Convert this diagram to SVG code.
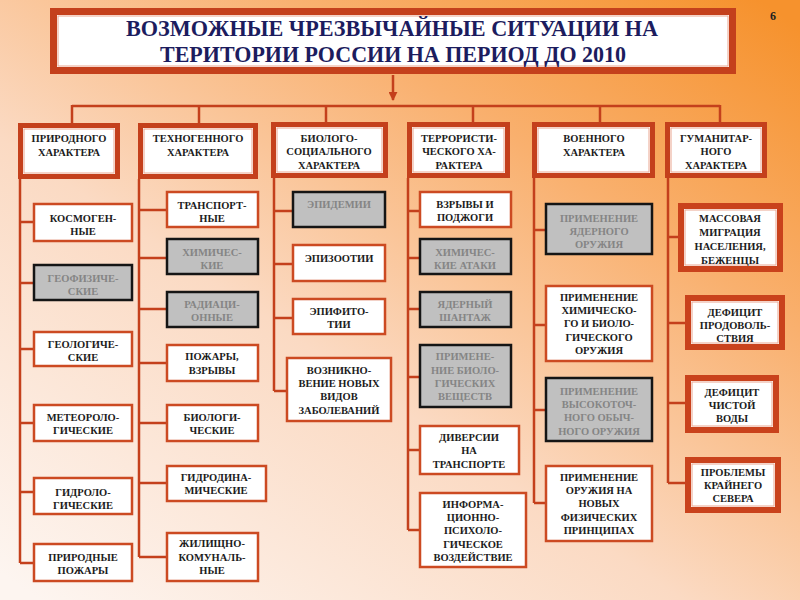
<svg xmlns="http://www.w3.org/2000/svg" width="800" height="600" viewBox="0 0 800 600">
<defs>
<linearGradient id="bg" x1="0.05" y1="1" x2="0.95" y2="0">
<stop offset="0" stop-color="#fdf5f0"/>
<stop offset="0.4" stop-color="#fbdac3"/>
<stop offset="0.72" stop-color="#f9b06e"/>
<stop offset="1" stop-color="#f6922d"/>
</linearGradient>
<marker id="ah" viewBox="0 0 10 10" refX="9" refY="5" markerWidth="9" markerHeight="9" markerUnits="userSpaceOnUse" orient="auto">
<path d="M0,0 L10,5 L0,10 z" fill="#c4401c"/>
</marker>
<style>
.ln{stroke:#c4401c;stroke-width:2.5;fill:none}
.cat{fill:#fff;stroke:#c4401c;stroke-width:5}
.cin{fill:none;stroke:#eaa690;stroke-width:1}
.ch{fill:#fff;stroke:#cc4a22;stroke-width:2.5}
.gr{fill:#c0c0c0;stroke:#151515;stroke-width:2.5}
.th{fill:#fff;stroke:#c9421c;stroke-width:6}
text{font-family:"Liberation Serif","DejaVu Serif",serif;font-weight:bold;font-size:10.5px;fill:#1c1c1c;text-anchor:middle}
.g text{fill:#858585}
.ttl{font-size:23px;fill:#1c1c5e}
.num{font-size:12px;fill:#222}
</style>
</defs>
<rect width="800" height="600" fill="url(#bg)"/>
<text class="num" x="773" y="20">6</text>

<g id="title">
<rect x="53.5" y="11.5" width="679" height="59" fill="#fff" stroke="#c4401c" stroke-width="7"/>
<rect x="58" y="16" width="670" height="50" class="cin"/>
<text class="ttl" x="392" y="36" textLength="532" lengthAdjust="spacingAndGlyphs">ВОЗМОЖНЫЕ ЧРЕЗВЫЧАЙНЫЕ СИТУАЦИИ НА</text>
<text class="ttl" x="393" y="62" textLength="466" lengthAdjust="spacingAndGlyphs">ТЕРИТОРИИ РОССИИ НА ПЕРИОД ДО 2010</text>
</g>

<g id="connectors">
<line class="ln" x1="393" y1="75" x2="393" y2="100" marker-end="url(#ah)"/>
<path class="ln" d="M72 106H720M72 105V123M199 105V123M326 105V123M473 105V123M600 105V123M720 105V123"/>
<path class="ln" d="M20 179V563M20 222H33M20 283H33M20 349H33M20 423H33M20 492H33M20 563H33"/>
<path class="ln" d="M139 179V557M139 210H166M139 258H166M139 309H166M139 363H166M139 423H166M139 483H166M139 557H166"/>
<path class="ln" d="M274 178V391M274 211H292M274 264H292M274 318H292M274 391H286"/>
<path class="ln" d="M408 178V530M408 211H419M408 258H419M408 309H419M408 377H419M408 450H419M408 530H419"/>
<path class="ln" d="M534 178V503M534 230H545M534 325H545M534 410H545M534 503H545"/>
<path class="ln" d="M668 178V483M668 237H678M668 323H685M668 403H685M668 483H685"/>
</g>

<g id="cat1"><rect class="cat" x="20.5" y="125.5" width="97" height="51"/><rect class="cin" x="24" y="129" width="90" height="44"/>
<text x="69" y="142">ПРИРОДНОГО</text><text x="69" y="156">ХАРАКТЕРА</text></g>
<g id="cat2"><rect class="cat" x="140.5" y="125.5" width="115" height="51"/><rect class="cin" x="144" y="129" width="108" height="44"/>
<text x="198" y="142">ТЕХНОГЕННОГО</text><text x="198" y="156">ХАРАКТЕРА</text></g>
<g id="cat3"><rect class="cat" x="273.5" y="124.5" width="112" height="51"/><rect class="cin" x="277" y="128" width="105" height="44"/>
<text x="329" y="142">БИОЛОГО-</text><text x="329" y="155">СОЦИАЛЬНОГО</text><text x="329" y="169">ХАРАКТЕРА</text></g>
<g id="cat4"><rect class="cat" x="409.5" y="124.5" width="98" height="51"/><rect class="cin" x="413" y="128" width="91" height="44"/>
<text x="459" y="142">ТЕРРОРИСТИ-</text><text x="459" y="155">ЧЕСКОГО ХА-</text><text x="459" y="169">РАКТЕРА</text></g>
<g id="cat5"><rect class="cat" x="534.5" y="124.5" width="118" height="51"/><rect class="cin" x="538" y="128" width="111" height="44"/>
<text x="594" y="142">ВОЕННОГО</text><text x="594" y="156">ХАРАКТЕРА</text></g>
<g id="cat6"><rect class="cat" x="667.5" y="124.5" width="97" height="51"/><rect class="cin" x="671" y="128" width="90" height="44"/>
<text x="716" y="142">ГУМАНИТАР-</text><text x="716" y="155">НОГО</text><text x="716" y="169">ХАРАКТЕРА</text></g>

<g id="n1a"><rect class="ch" x="34" y="204" width="98" height="37"/><text x="83" y="222">КОСМОГЕН-</text><text x="83" y="235">НЫЕ</text></g>
<g id="n1b" class="g"><rect class="gr" x="34" y="265" width="98" height="35"/><text x="83" y="282">ГЕОФИЗИЧЕ-</text><text x="83" y="295">СКИЕ</text></g>
<g id="n1c"><rect class="ch" x="34" y="332" width="98" height="34"/><text x="83" y="348">ГЕОЛОГИЧЕ-</text><text x="83" y="361">СКИЕ</text></g>
<g id="n1d"><rect class="ch" x="34" y="405" width="98" height="36"/><text x="83" y="421">МЕТЕОРОЛО-</text><text x="83" y="434">ГИЧЕСКИЕ</text></g>
<g id="n1e"><rect class="ch" x="34" y="478" width="98" height="36"/><text x="83" y="496">ГИДРОЛО-</text><text x="83" y="509">ГИЧЕСКИЕ</text></g>
<g id="n1f"><rect class="ch" x="34" y="544" width="98" height="37"/><text x="83" y="561">ПРИРОДНЫЕ</text><text x="83" y="574">ПОЖАРЫ</text></g>

<g id="n2a"><rect class="ch" x="167" y="192" width="91" height="35"/><text x="212" y="209">ТРАНСПОРТ-</text><text x="212" y="222">НЫЕ</text></g>
<g id="n2b" class="g"><rect class="gr" x="167" y="239" width="91" height="35"/><text x="212" y="256">ХИМИЧЕС-</text><text x="212" y="269">КИЕ</text></g>
<g id="n2c" class="g"><rect class="gr" x="167" y="292" width="91" height="35"/><text x="212" y="308">РАДИАЦИ-</text><text x="212" y="321">ОННЫЕ</text></g>
<g id="n2d"><rect class="ch" x="167" y="345" width="91" height="36"/><text x="212" y="360">ПОЖАРЫ,</text><text x="212" y="374">ВЗРЫВЫ</text></g>
<g id="n2e"><rect class="ch" x="167" y="405" width="91" height="36"/><text x="212" y="421">БИОЛОГИ-</text><text x="212" y="434">ЧЕСКИЕ</text></g>
<g id="n2f"><rect class="ch" x="167" y="466" width="99" height="35"/><text x="216" y="481">ГИДРОДИНА-</text><text x="216" y="494">МИЧЕСКИЕ</text></g>
<g id="n2g"><rect class="ch" x="167" y="533" width="91" height="48"/><text x="212" y="547">ЖИЛИЩНО-</text><text x="212" y="561">КОМУНАЛЬ-</text><text x="212" y="574">НЫЕ</text></g>

<g id="n3a" class="g"><rect class="gr" x="293" y="192" width="92" height="35"/><text x="339" y="208">ЭПИДЕМИИ</text></g>
<g id="n3b"><rect class="ch" x="293" y="245" width="92" height="36"/><text x="339" y="262">ЭПИЗООТИИ</text></g>
<g id="n3c"><rect class="ch" x="293" y="299" width="92" height="35"/><text x="339" y="315">ЭПИФИТО-</text><text x="339" y="328">ТИИ</text></g>
<g id="n3d"><rect class="ch" x="287" y="358" width="104" height="63"/><text x="339" y="374">ВОЗНИКНО-</text><text x="339" y="387">ВЕНИЕ НОВЫХ</text><text x="339" y="400">ВИДОВ</text><text x="339" y="414">ЗАБОЛЕВАНИЙ</text></g>

<g id="n4a"><rect class="ch" x="420" y="192" width="91" height="35"/><text x="465" y="208">ВЗРЫВЫ И</text><text x="465" y="221">ПОДЖОГИ</text></g>
<g id="n4b" class="g"><rect class="gr" x="420" y="239" width="91" height="35"/><text x="465" y="256">ХИМИЧЕС-</text><text x="465" y="269">КИЕ АТАКИ</text></g>
<g id="n4c" class="g"><rect class="gr" x="420" y="292" width="91" height="35"/><text x="465" y="308">ЯДЕРНЫЙ</text><text x="465" y="321">ШАНТАЖ</text></g>
<g id="n4d" class="g"><rect class="gr" x="420" y="345" width="91" height="62"/><text x="465" y="360">ПРИМЕНЕ-</text><text x="465" y="374">НИЕ БИОЛО-</text><text x="465" y="387">ГИЧЕСКИХ</text><text x="465" y="400">ВЕЩЕСТВ</text></g>
<g id="n4e"><rect class="ch" x="420" y="426" width="99" height="48"/><text x="469" y="441">ДИВЕРСИИ</text><text x="469" y="454">НА</text><text x="469" y="468">ТРАНСПОРТЕ</text></g>
<g id="n4f"><rect class="ch" x="420" y="493" width="106" height="74"/><text x="473" y="508">ИНФОРМА-</text><text x="473" y="521">ЦИОННО-</text><text x="473" y="534">ПСИХОЛО-</text><text x="473" y="548">ГИЧЕСКОЕ</text><text x="473" y="561">ВОЗДЕЙСТВИЕ</text></g>

<g id="n5a" class="g"><rect class="gr" x="546" y="204" width="106" height="50"/><text x="599" y="222">ПРИМЕНЕНИЕ</text><text x="599" y="235">ЯДЕРНОГО</text><text x="599" y="248">ОРУЖИЯ</text></g>
<g id="n5b"><rect class="ch" x="546" y="286" width="106" height="75"/><text x="599" y="301">ПРИМЕНЕНИЕ</text><text x="599" y="314">ХИМИЧЕСКО-</text><text x="599" y="327">ГО И БИОЛО-</text><text x="599" y="341">ГИЧЕСКОГО</text><text x="599" y="354">ОРУЖИЯ</text></g>
<g id="n5c" class="g"><rect class="gr" x="546" y="378" width="106" height="63"/><text x="599" y="395">ПРИМЕНЕНИЕ</text><text x="599" y="408">ВЫСОКОТОЧ-</text><text x="599" y="421">НОГО ОБЫЧ-</text><text x="599" y="435">НОГО ОРУЖИЯ</text></g>
<g id="n5d"><rect class="ch" x="546" y="466" width="106" height="75"/><text x="599" y="481">ПРИМЕНЕНИЕ</text><text x="599" y="494">ОРУЖИЯ НА</text><text x="599" y="507">НОВЫХ</text><text x="599" y="521">ФИЗИЧЕСКИХ</text><text x="599" y="534">ПРИНЦИПАХ</text></g>

<g id="n6a"><rect class="th" x="681" y="206" width="99" height="63"/><rect class="cin" x="685" y="210" width="91" height="55"/><text x="730" y="222">МАССОВАЯ</text><text x="730" y="236">МИГРАЦИЯ</text><text x="730" y="250">НАСЕЛЕНИЯ,</text><text x="730" y="264">БЕЖЕНЦЫ</text></g>
<g id="n6b"><rect class="th" x="688" y="298" width="94" height="49"/><rect class="cin" x="692" y="302" width="86" height="41"/><text x="735" y="316">ДЕФИЦИТ</text><text x="735" y="329">ПРОДОВОЛЬ-</text><text x="735" y="342">СТВИЯ</text></g>
<g id="n6c"><rect class="th" x="688" y="378" width="88" height="52"/><rect class="cin" x="692" y="382" width="80" height="44"/><text x="732" y="396">ДЕФИЦИТ</text><text x="732" y="409">ЧИСТОЙ</text><text x="732" y="422">ВОДЫ</text></g>
<g id="n6d"><rect class="th" x="688" y="460" width="90" height="50"/><rect class="cin" x="692" y="464" width="82" height="42"/><text x="733" y="476">ПРОБЛЕМЫ</text><text x="733" y="489">КРАЙНЕГО</text><text x="733" y="502">СЕВЕРА</text></g>
</svg>
